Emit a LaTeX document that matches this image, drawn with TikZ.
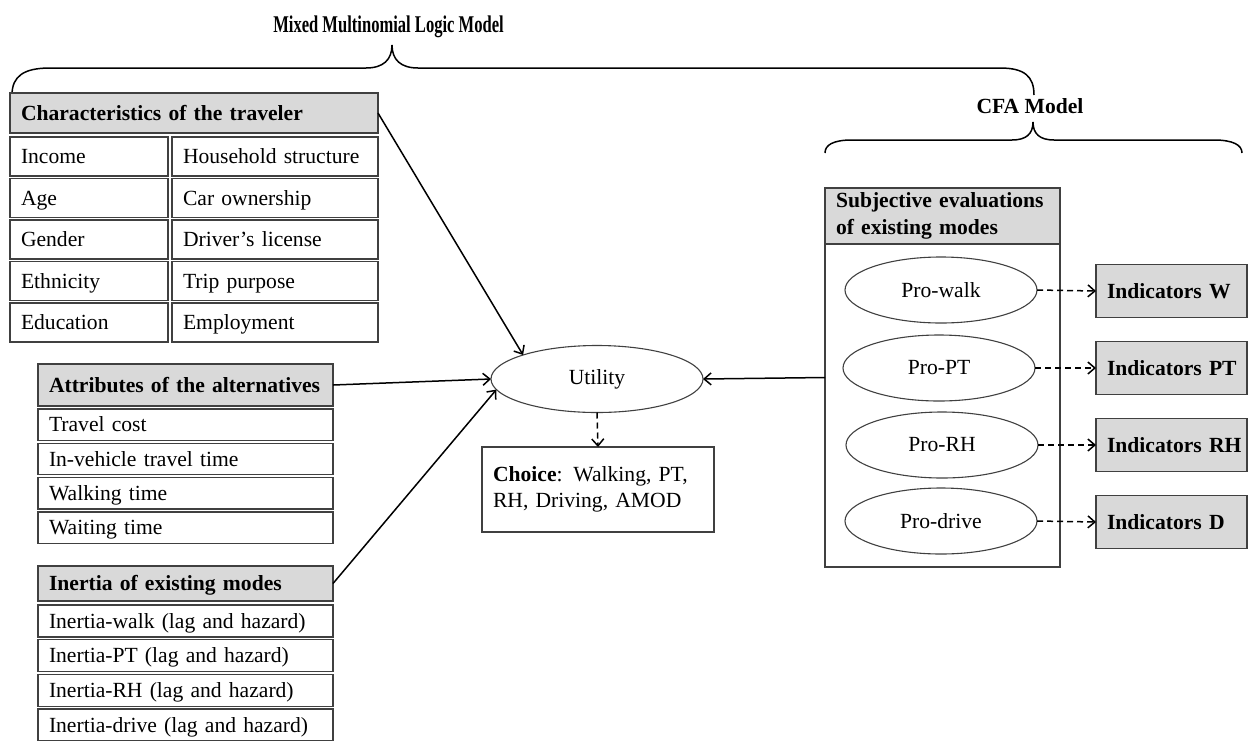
\documentclass[tikz,border=0pt]{standalone}
\usepackage{fontspec}
\setmainfont{Liberation Serif}
\usepackage{graphicx}
\usetikzlibrary{arrows.meta,shapes.geometric}
\definecolor{boxline}{HTML}{404040}
\definecolor{headfill}{HTML}{D9D9D9}
\tikzset{
  txt/.style={font=\fontsize{21.6}{26.5}\selectfont, outer sep=0pt},
  multicell/.style={txt, draw=boxline, line width=1.3pt, anchor=north west, align=left, inner xsep=11pt, inner ysep=0pt},
  cell/.style={multicell, text height=18pt, text depth=4pt},
  headcell/.style={cell, fill=headfill, font=\fontsize{21.6}{26.5}\selectfont\bfseries},
  multihead/.style={multicell, fill=headfill, font=\fontsize{21.6}{26.5}\selectfont\bfseries},
  latent/.style={txt, ellipse, draw=boxline, line width=1.1pt, minimum width=192pt, minimum height=66pt, inner sep=0pt},
  arr/.style={line width=1.5pt, -{Straight Barb[length=7pt,width=12pt,line width=1.5pt]}},
  darr/.style={arr, dash pattern=on 6pt off 4pt},
  bracel/.style={line width=1.5pt},
  ttl/.style={txt, font=\fontsize{21.6}{26.5}\selectfont\bfseries, anchor=base, inner sep=0pt},
}
\begin{document}
\begin{tikzpicture}[x=1pt,y=-1pt]
\path[use as bounding box, clip] (0,0) rectangle (1250,740);

% titles and braces
\node[ttl, font=\fontsize{24}{28}\selectfont\bfseries] (mmnl) at (388.5,32) {\scalebox{0.69}[1]{Mixed Multinomial Logic Model}};
\node[ttl] (cfa) at (1030,113) {CFA Model};
\draw[bracel] (12,95) .. controls (12,76) and (24,68) .. (50,68) -- (366,68)
  .. controls (383,68) and (392,60) .. (392,45)
  .. controls (392,60) and (401,68) .. (418,68) -- (1000,68)
  .. controls (1024,68) and (1034,76) .. (1034,95);
\draw[bracel] (825,153) .. controls (825,145) and (833,140) .. (852,140) -- (1012,140)
  .. controls (1026,140) and (1033,134) .. (1033,122)
  .. controls (1033,134) and (1040,140) .. (1054,140) -- (1214,140)
  .. controls (1233,140) and (1242,145) .. (1242,153);

% characteristics of the traveler
\node[headcell, text width=346pt, minimum height=40pt] (char) at (10,93) {\mbox{Characteristics of the traveler}};
\node[cell, text width=136pt, minimum height=39pt] (c1a) at (10,137) {Income};
\node[cell, text width=184pt, minimum height=39pt] (c1b) at (172,137) {\mbox{Household structure}};
\node[cell, text width=136pt, minimum height=39pt] (c2a) at (10,178.5) {Age};
\node[cell, text width=184pt, minimum height=39pt] (c2b) at (172,178.5) {Car ownership};
\node[cell, text width=136pt, minimum height=39pt] (c3a) at (10,220) {Gender};
\node[cell, text width=184pt, minimum height=39pt] (c3b) at (172,220) {Driver’s license};
\node[cell, text width=136pt, minimum height=39pt] (c4a) at (10,261.5) {Ethnicity};
\node[cell, text width=184pt, minimum height=39pt] (c4b) at (172,261.5) {Trip purpose};
\node[cell, text width=136pt, minimum height=39pt] (c5a) at (10,303) {Education};
\node[cell, text width=184pt, minimum height=39pt] (c5b) at (172,303) {Employment};

% attributes of the alternatives
\node[headcell, text width=273pt, minimum height=42pt] (attr) at (38,364) {\mbox{Attributes of the alternatives}};
\node[cell, text width=273pt, minimum height=31.5pt] (a1) at (38,409) {Travel cost};
\node[cell, text width=273pt, minimum height=31.5pt] (a2) at (38,443.3) {In-vehicle travel time};
\node[cell, text width=273pt, minimum height=31.5pt] (a3) at (38,477.6) {Walking time};
\node[cell, text width=273pt, minimum height=31.5pt] (a4) at (38,512) {Waiting time};

% inertia
\node[headcell, text width=273pt, minimum height=35pt] (inert) at (38,566) {Inertia of existing modes};
\node[cell, text width=273pt, minimum height=32pt] (i1) at (38,605) {\mbox{Inertia-walk (lag and hazard)}};
\node[cell, text width=273pt, minimum height=32pt] (i2) at (38,639.7) {\mbox{Inertia-PT (lag and hazard)}};
\node[cell, text width=273pt, minimum height=32pt] (i3) at (38,674.4) {\mbox{Inertia-RH (lag and hazard)}};
\node[cell, text width=273pt, minimum height=32pt] (i4) at (38,709) {\mbox{Inertia-drive (lag and hazard)}};

% utility and choice
\node[latent, minimum width=212pt, minimum height=67pt] (util) at (597,379) {Utility};
\node[multicell, text width=210pt, minimum height=85pt] (choice) at (482,447) {\textbf{Choice}: Walking, PT,\\RH, Driving, AMOD};

% subjective evaluations
\node[multicell, minimum width=235pt, minimum height=379pt, inner sep=0pt] (subj) at (825,188) {};
\node[multihead, text width=213pt, minimum height=56pt] (subjh) at (825,188) {Subjective evaluations\\of existing modes};
\node[latent] (pw) at (941,290) {Pro-walk};
\node[latent] (ppt) at (939,368) {Pro-PT};
\node[latent] (prh) at (942,445) {Pro-RH};
\node[latent] (pd) at (941,521) {Pro-drive};

% indicators
\node[headcell, text width=129pt, minimum height=53pt, anchor=west] (indw) at (1096,291) {\mbox{Indicators W}};
\node[headcell, text width=129pt, minimum height=53pt, anchor=west] (indpt) at (1096,368) {\mbox{Indicators PT}};
\node[headcell, text width=129pt, minimum height=53pt, anchor=west] (indrh) at (1096,445) {\mbox{Indicators RH}};
\node[headcell, text width=129pt, minimum height=53pt, anchor=west] (indd) at (1096,522) {\mbox{Indicators D}};

% connectors
\draw[arr] (char.east) -- (util.162);
\draw[arr] (attr.east) -- (util.west);
\draw[arr] (inert.east) -- (util.186);
\draw[arr] (subj.west) -- (util.east);
\draw[darr] (util.south) -- (choice.north);
\draw[darr] (pw.east) -- (indw.west);
\draw[darr] (ppt.east) -- (indpt.west);
\draw[darr] (prh.east) -- (indrh.west);
\draw[darr] (pd.east) -- (indd.west);
\end{tikzpicture}
\end{document}
